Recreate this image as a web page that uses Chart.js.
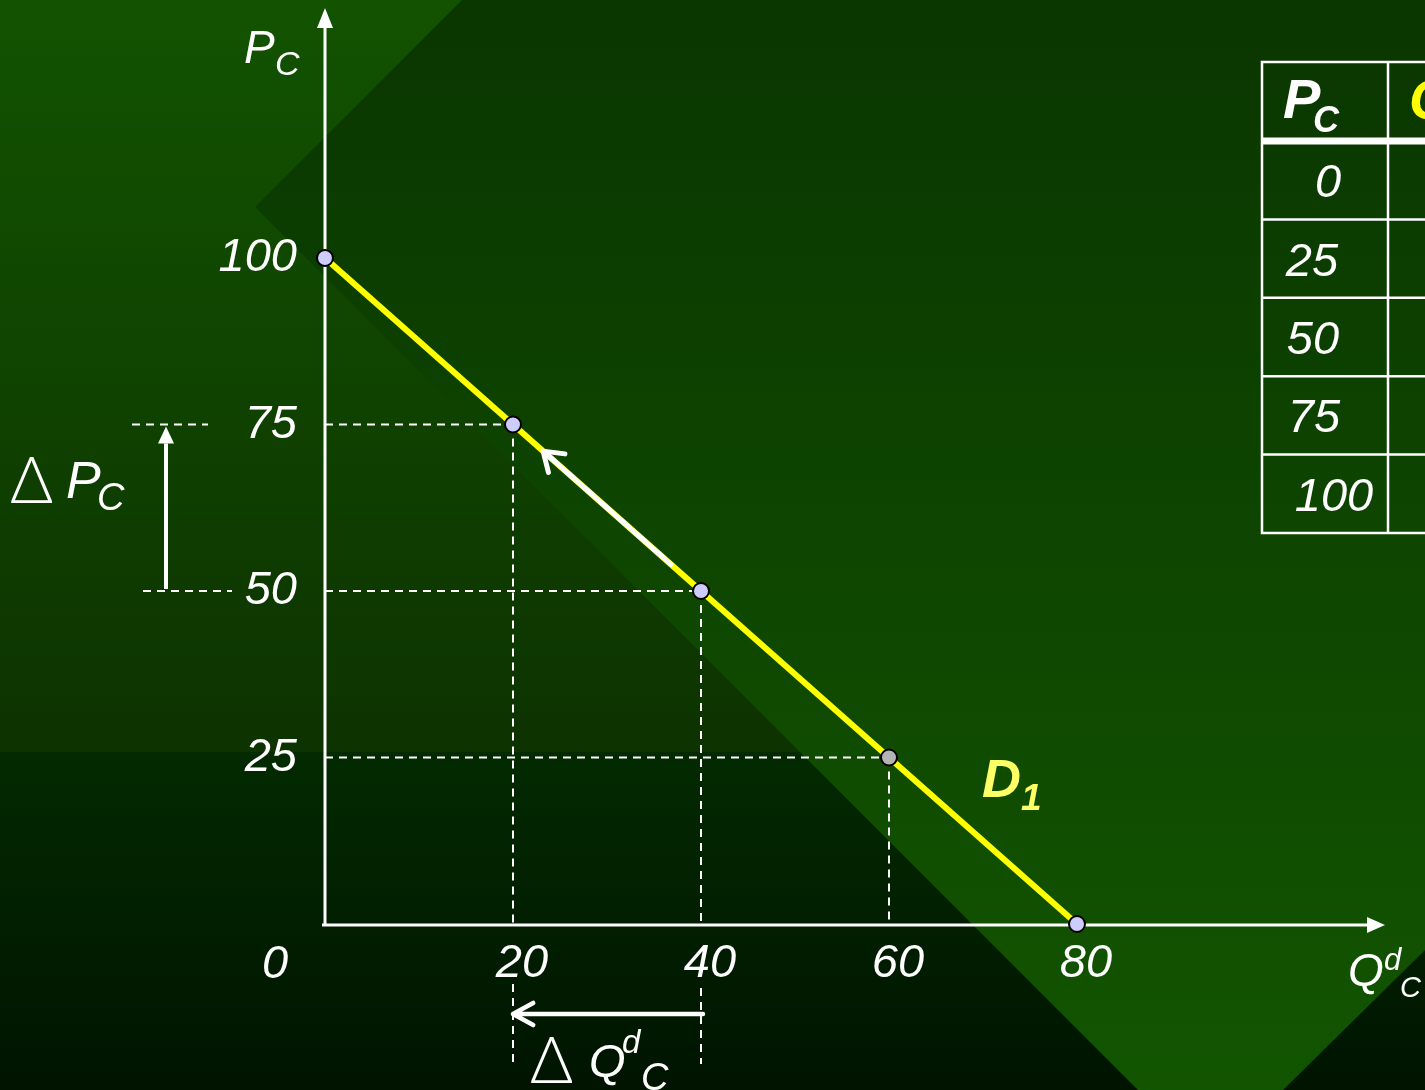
<!DOCTYPE html>
<html>
<head>
<meta charset="utf-8">
<title>Demand curve D1</title>
<script src="https://cdn.jsdelivr.net/npm/chart.js@4.4.1/dist/chart.umd.min.js"></script>
<style>
  html, body { margin: 0; padding: 0; background: #0b3a00; }
  canvas { display: block; }
</style>
</head>
<body>
<canvas id="demand-chart" width="1425" height="1090"></canvas>
<script>
// demand schedule
const quantities = [0, 20, 40, 60, 80];
const prices = [100, 75, 50, 25, 0];
const xTickValues = [20, 40, 60, 80];
const yTickValues = [25, 50, 75, 100];
const tablePrices = [0, 25, 50, 75, 100];

const FONT = "'Liberation Sans', Arial, sans-serif";
const WHITE = '#ffffff';

const font = (size, bold, italic) =>
  `${italic ? 'italic ' : ''}${bold ? 'bold ' : ''}${size}px ${FONT}`;

function text(ctx, str, x, y, size, opts) {
  opts = opts || {};
  ctx.save();
  ctx.font = opts.font || font(size, opts.bold, opts.italic !== false);
  ctx.fillStyle = opts.color || WHITE;
  ctx.textAlign = opts.align || 'left';
  ctx.textBaseline = 'alphabetic';
  ctx.fillText(str, x, y);
  ctx.restore();
}

function line(ctx, x1, y1, x2, y2, width, dash) {
  ctx.save();
  ctx.strokeStyle = WHITE;
  ctx.lineWidth = width;
  ctx.setLineDash(dash || []);
  ctx.beginPath();
  ctx.moveTo(x1, y1);
  ctx.lineTo(x2, y2);
  ctx.stroke();
  ctx.restore();
}

// solid triangle head
function filledArrow(ctx, x1, y1, x2, y2, width, len, half) {
  const a = Math.atan2(y2 - y1, x2 - x1);
  const bx = x2 - Math.cos(a) * len, by = y2 - Math.sin(a) * len;
  line(ctx, x1, y1, bx, by, width);
  ctx.save();
  ctx.fillStyle = WHITE;
  ctx.beginPath();
  ctx.moveTo(x2, y2);
  ctx.lineTo(bx + Math.sin(a) * half, by - Math.cos(a) * half);
  ctx.lineTo(bx - Math.sin(a) * half, by + Math.cos(a) * half);
  ctx.closePath();
  ctx.fill();
  ctx.restore();
}

// open chevron head
function openArrow(ctx, x1, y1, x2, y2, width, arm, spread) {
  const a = Math.atan2(y2 - y1, x2 - x1);
  ctx.save();
  ctx.strokeStyle = WHITE;
  ctx.lineWidth = width;
  ctx.lineCap = 'round';
  ctx.lineJoin = 'round';
  ctx.beginPath();
  ctx.moveTo(x1, y1);
  ctx.lineTo(x2, y2);
  ctx.moveTo(x2 - Math.cos(a - spread) * arm, y2 - Math.sin(a - spread) * arm);
  ctx.lineTo(x2, y2);
  ctx.lineTo(x2 - Math.cos(a + spread) * arm, y2 - Math.sin(a + spread) * arm);
  ctx.stroke();
  ctx.restore();
}

function drawBackground(ctx, w, h) {
  let g = ctx.createLinearGradient(0, 0, 0, 752);
  g.addColorStop(0, '#125300');
  g.addColorStop(1, '#0d3300');
  ctx.fillStyle = g;
  ctx.fillRect(0, 0, w, 752);
  g = ctx.createLinearGradient(0, 752, 0, h);
  g.addColorStop(0, '#032a00');
  g.addColorStop(1, '#001400');
  ctx.fillStyle = g;
  ctx.fillRect(0, 752, w, h - 752);

  // big tilted square behind the plot
  g = ctx.createLinearGradient(0, 0, 0, h);
  g.addColorStop(0, '#0a3600');
  g.addColorStop(1, '#125500');
  ctx.fillStyle = g;
  ctx.beginPath();
  ctx.moveTo(255, 207);
  ctx.lineTo(462, 0);
  ctx.lineTo(w, 0);
  ctx.lineTo(w, 950);
  ctx.lineTo(1283, h);
  ctx.lineTo(1138, h);
  ctx.closePath();
  ctx.fill();
}

const DELTA_FONT = "300 66px Lato, 'Liberation Sans', sans-serif";

const slidePlugin = {
  id: 'slide',
  beforeDraw(chart) {
    drawBackground(chart.ctx, chart.width, chart.height);
  },
  beforeDatasetsDraw(chart) {
    const ctx = chart.ctx;
    const xs = chart.scales.x, ys = chart.scales.y;
    const x0 = xs.getPixelForValue(0), y0 = ys.getPixelForValue(0);
    const dash = [8, 6];

    // dashed guides from the inner points to both axes
    for (let i = 1; i < quantities.length - 1; i++) {
      const px = xs.getPixelForValue(quantities[i]);
      const py = ys.getPixelForValue(prices[i]);
      line(ctx, x0, py, px, py, 2, dash);
      line(ctx, px, py, px, y0, 2, dash);
    }
    // guides carried past the axes for the deltas
    const y75 = ys.getPixelForValue(prices[1]), y50 = ys.getPixelForValue(prices[2]);
    const x20 = xs.getPixelForValue(quantities[1]), x40 = xs.getPixelForValue(quantities[2]);
    line(ctx, 132, y75, 208, y75, 2, dash);
    line(ctx, 143, y50, 232, y50, 2, dash);
    line(ctx, x20, y0 + 60, x20, y0 + 140, 2, dash);
    line(ctx, x40, y0 + 64, x40, y0 + 140, 2, dash);

    // axes with arrow heads
    filledArrow(ctx, x0, y0 + 2, x0, 8, 3, 20, 8);
    filledArrow(ctx, x0 - 3, y0 + 1, 1385, y0 + 1, 3, 18, 8);

    // delta arrows
    filledArrow(ctx, 166, y50 - 2, 166, y75 + 2, 4, 17, 8);
    openArrow(ctx, x40 + 2, y0 + 90, x20, y0 + 90, 4.5, 23, 0.5);
  },
  afterDatasetDraw(chart, args) {
    if (args.index !== 1) return;
    const ctx = chart.ctx;
    const xs = chart.scales.x, ys = chart.scales.y;
    const ax = xs.getPixelForValue(quantities[2]), ay = ys.getPixelForValue(prices[2]);
    const bx = xs.getPixelForValue(quantities[1]), by = ys.getPixelForValue(prices[1]);
    const t1 = 0.16, t2 = 0.84;
    openArrow(ctx, ax + (bx - ax) * t1, ay + (by - ay) * t1,
      ax + (bx - ax) * t2, ay + (by - ay) * t2, 5, 22, 0.6);
  },
  afterDraw(chart) {
    const ctx = chart.ctx;
    const xs = chart.scales.x;

    // origin
    text(ctx, '0', 275, 978, 47, {align: 'center'});

    // axis titles
    text(ctx, 'P', 244, 63, 46);
    text(ctx, 'C', 275, 75, 34);
    text(ctx, 'Q', 1348, 986, 46);
    text(ctx, 'd', 1384, 970, 31);
    text(ctx, 'C', 1400, 997, 29);

    // delta labels
    text(ctx, '\u0394', 10, 503, 66, {font: DELTA_FONT});
    text(ctx, 'P', 66, 498, 52);
    text(ctx, 'C', 97, 510, 38);
    text(ctx, '\u0394', 530, 1083, 66, {font: DELTA_FONT});
    text(ctx, 'Q', 589, 1077, 47);
    text(ctx, 'd', 622, 1053, 33);
    text(ctx, 'C', 641, 1090, 38);

    // curve label
    const dx = xs.getPixelForValue(quantities[3]) + 93;
    text(ctx, 'D', dx, 797, 54, {bold: true, color: '#ffff66'});
    text(ctx, '1', dx + 39, 810, 37, {bold: true, color: '#ffff66'});

    // schedule table, cut off by the slide edge
    const left = 1262, divider = 1388, top = 62, headBottom = 141, rowH = 78.4;
    const bottom = headBottom + rowH * tablePrices.length;
    ctx.save();
    ctx.strokeStyle = WHITE;
    ctx.lineWidth = 2.5;
    ctx.beginPath();
    ctx.moveTo(chart.width + 5, top); ctx.lineTo(left, top); ctx.lineTo(left, bottom);
    ctx.lineTo(chart.width + 5, bottom);
    ctx.moveTo(divider, top); ctx.lineTo(divider, bottom);
    for (let i = 1; i < tablePrices.length; i++) {
      ctx.moveTo(left, headBottom + rowH * i);
      ctx.lineTo(chart.width + 5, headBottom + rowH * i);
    }
    ctx.stroke();
    ctx.lineWidth = 7;
    ctx.beginPath();
    ctx.moveTo(left, headBottom);
    ctx.lineTo(chart.width + 5, headBottom);
    ctx.stroke();
    ctx.restore();

    text(ctx, 'P', 1283, 118, 56, {bold: true});
    text(ctx, 'C', 1313, 132, 36, {bold: true});
    text(ctx, 'Q', 1409, 118, 56, {bold: true, color: '#ffff00'});

    const rowX = [1328, 1312, 1313, 1314, 1334];
    tablePrices.forEach((p, i) => {
      const cy = headBottom + rowH * (i + 0.5);
      text(ctx, String(p), rowX[i], cy + 17, 47, {align: 'center'});
    });
  }
};

const demandPoints = quantities.map((q, i) => ({x: q, y: prices[i]}));

const chartArea = document.getElementById('demand-chart');
new Chart(chartArea, {
  type: 'scatter',
  data: {
    datasets: [{
      label: 'points',
      data: demandPoints,
      showLine: false,
      pointRadius: 8,
      pointHoverRadius: 8,
      pointBorderWidth: 2,
      pointBorderColor: '#000000',
      pointBackgroundColor: (c) => c.dataIndex === 3 ? '#b4b4b4' : '#ccccff',
      clip: false,
      order: 0
    }, {
      label: 'D1',
      data: demandPoints,
      showLine: true,
      borderColor: '#ffff00',
      borderWidth: 6,
      pointRadius: 0,
      tension: 0,
      clip: false,
      order: 1
    }]
  },
  options: {
    responsive: false,
    animation: false,
    events: [],
    layout: {padding: {top: 258, right: 348, bottom: 0, left: 0}},
    plugins: {legend: {display: false}, tooltip: {enabled: false}},
    scales: {
      x: {
        type: 'linear',
        min: 0,
        max: 80,
        grid: {display: false, drawTicks: false},
        border: {display: false},
        afterBuildTicks: (s) => { s.ticks = xTickValues.map(v => ({value: v})); },
        afterFit: (s) => { s.height = 166; },
        ticks: {
          color: WHITE,
          padding: 12,
          labelOffset: 9,
          maxRotation: 0,
          autoSkip: false,
          font: {family: FONT, size: 47, style: 'italic'}
        }
      },
      y: {
        type: 'linear',
        min: 0,
        max: 100,
        grid: {display: false, drawTicks: false},
        border: {display: false},
        afterBuildTicks: (s) => { s.ticks = yTickValues.map(v => ({value: v})); },
        afterFit: (s) => { s.width = 325; },
        ticks: {
          color: WHITE,
          padding: 28,
          autoSkip: false,
          font: {family: FONT, size: 47, style: 'italic'}
        }
      }
    }
  },
  plugins: [slidePlugin]
});
</script>
</body>
</html>
